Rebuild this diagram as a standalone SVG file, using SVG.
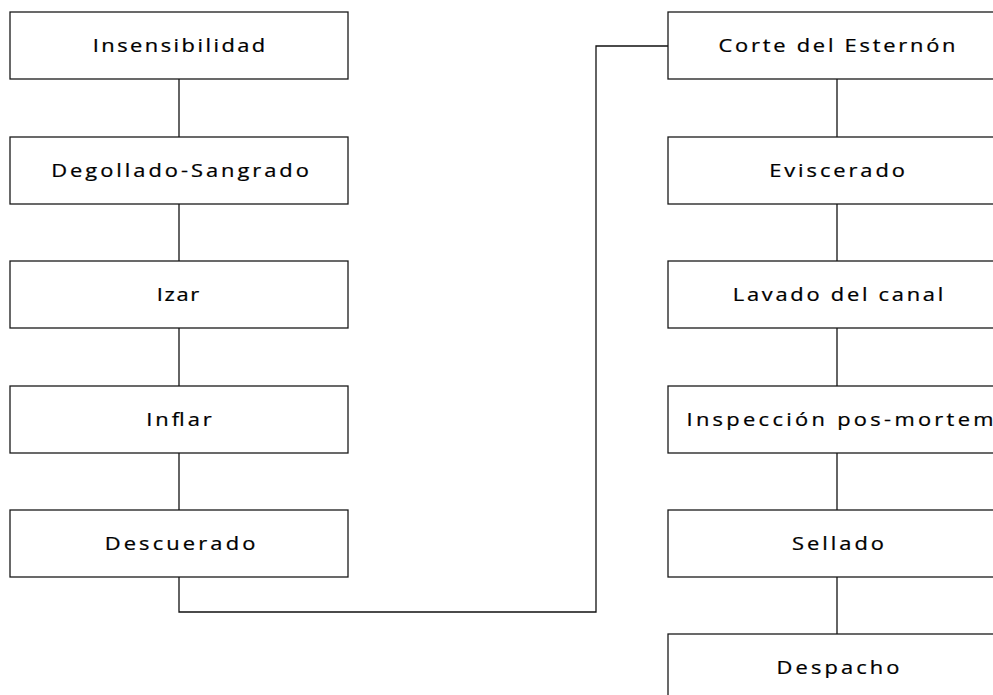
<svg xmlns="http://www.w3.org/2000/svg" width="993" height="695" viewBox="0 0 993 695">
  <style>
    .box { fill: #ffffff; stroke: #1a1a1a; stroke-width: 1.3; }
    .lbl { font-family: "Open Sans", "Liberation Sans", sans-serif; font-size: 19px; fill: #000000; stroke: #000000; stroke-width: 0.25; text-anchor: middle; }
    .link { fill: none; stroke: #111111; stroke-width: 1.3; }
  </style>
  <rect width="993" height="695" fill="#ffffff"/>

  <!-- connectors -->
  <g id="connectors">
    <path class="link" d="M179 79 V137"/>
    <path class="link" d="M179 204 V261"/>
    <path class="link" d="M179 328 V386"/>
    <path class="link" d="M179 453 V510"/>
    <path class="link" d="M179 577 V612 H596 V46 H668"/>
    <path class="link" d="M837 79 V137"/>
    <path class="link" d="M837 204 V261"/>
    <path class="link" d="M837 328 V386"/>
    <path class="link" d="M837 453 V510"/>
    <path class="link" d="M837 577 V634"/>
  </g>

  <!-- left column (labels widened horizontally by 1.15) -->
  <g id="insensibilidad">
    <rect class="box" x="10" y="12" width="338" height="67"/>
    <text class="lbl" transform="translate(179 52) scale(1.15 1)" textLength="150" lengthAdjust="spacing">Insensibilidad</text>
  </g>
  <g id="degollado-sangrado">
    <rect class="box" x="10" y="137" width="338" height="67"/>
    <text class="lbl" transform="translate(180 177) scale(1.15 1)" textLength="224" lengthAdjust="spacing">Degollado-Sangrado</text>
  </g>
  <g id="izar">
    <rect class="box" x="10" y="261" width="338" height="67"/>
    <text class="lbl" transform="translate(178 301) scale(1.15 1)" textLength="37" lengthAdjust="spacing">Izar</text>
  </g>
  <g id="inflar">
    <rect class="box" x="10" y="386" width="338" height="67"/>
    <text class="lbl" transform="translate(179 426) scale(1.15 1)" textLength="57" lengthAdjust="spacing">Inflar</text>
  </g>
  <g id="descuerado">
    <rect class="box" x="10" y="510" width="338" height="67"/>
    <text class="lbl" transform="translate(180 550) scale(1.15 1)" textLength="131" lengthAdjust="spacing">Descuerado</text>
  </g>

  <!-- right column -->
  <g id="corte-esternon">
    <rect class="box" x="668" y="12" width="338" height="67"/>
    <text class="lbl" transform="translate(837 52) scale(1.15 1)" textLength="206" lengthAdjust="spacing">Corte del Esternón</text>
  </g>
  <g id="eviscerado">
    <rect class="box" x="668" y="137" width="338" height="67"/>
    <text class="lbl" transform="translate(837 177) scale(1.15 1)" textLength="118" lengthAdjust="spacing">Eviscerado</text>
  </g>
  <g id="lavado-canal">
    <rect class="box" x="668" y="261" width="338" height="67"/>
    <text class="lbl" transform="translate(838 301) scale(1.15 1)" textLength="183" lengthAdjust="spacing">Lavado del canal</text>
  </g>
  <g id="inspeccion">
    <rect class="box" x="668" y="386" width="338" height="67"/>
    <text class="lbl" transform="translate(840 426) scale(1.15 1)" textLength="267" lengthAdjust="spacing">Inspección pos-mortem</text>
  </g>
  <g id="sellado">
    <rect class="box" x="668" y="510" width="338" height="67"/>
    <text class="lbl" transform="translate(838 550) scale(1.15 1)" textLength="80" lengthAdjust="spacing">Sellado</text>
  </g>
  <g id="despacho">
    <rect class="box" x="668" y="634" width="338" height="67"/>
    <text class="lbl" transform="translate(838 674) scale(1.15 1)" textLength="107" lengthAdjust="spacing">Despacho</text>
  </g>
</svg>
